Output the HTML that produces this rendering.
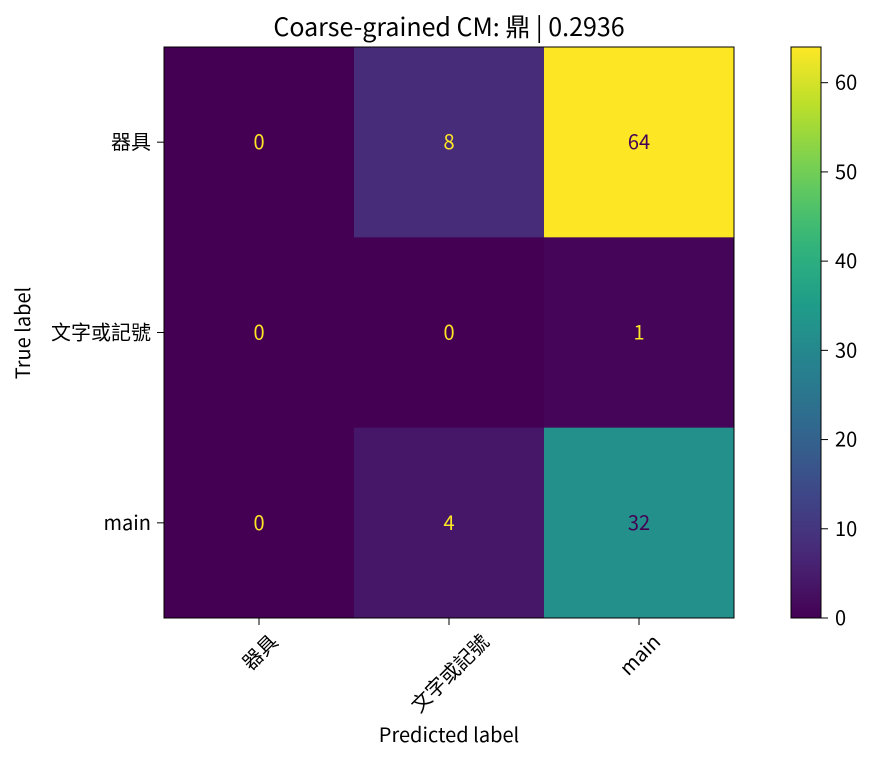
<!DOCTYPE html>
<html><head><meta charset="utf-8"><style>
body{margin:0;background:#fff;}
svg text{font-family:"Noto Sans CJK TC","Liberation Sans",sans-serif;fill:#000;}
</style></head><body>
<svg id="chart" width="873" height="762" xmlns="http://www.w3.org/2000/svg">
<defs><linearGradient id="vir" x1="0" y1="1" x2="0" y2="0"></linearGradient></defs>
<text x="449" y="36" text-anchor="middle" font-size="25">Coarse-grained CM: 鼎 | 0.2936</text>
<g id="cells"></g>
<g id="axes"></g>
<g id="cbar"></g>
<text x="449" y="742" text-anchor="middle" font-size="20">Predicted label</text>
<text transform="translate(30,333) rotate(-90)" text-anchor="middle" font-size="20">True label</text>
</svg>
<script>
const categories=["器具","文字或記號","main"];
const matrix=[[0,8,64],[0,0,1],[0,4,32]];
const cbarTicks=[0,10,20,30,40,50,60];
const vmin=0, vmax=64;
const stops=["#440154","#482878","#3e4989","#31688e","#26828e","#1f9e89","#35b779","#6ece58","#b5de2b","#fde725"];
function hex(c){return [1,3,5].map(i=>parseInt(c.substr(i,2),16));}
function viridis(t){t=Math.max(0,Math.min(1,t));const p=t*(stops.length-1),i=Math.min(stops.length-2,Math.floor(p)),f=p-i;
const a=hex(stops[i]),b=hex(stops[i+1]);return "rgb("+a.map((v,k)=>Math.round(v+(b[k]-v)*f)).join(",")+")";}
const NS="http://www.w3.org/2000/svg";
function el(tag,attrs,parent,txt){const e=document.createElementNS(NS,tag);for(const k in attrs)e.setAttribute(k,attrs[k]);if(txt!==undefined)e.textContent=txt;parent.appendChild(e);return e;}
const L=164,T=47,W=570,H=571,n=categories.length,cw=W/n,ch=H/n;
const xc=j=>L+cw*(j+0.5), yc=i=>T+ch*(i+0.5);
const cells=document.getElementById('cells');
matrix.forEach((row,i)=>row.forEach((v,j)=>{
 const r=el('rect',{x:L+cw*j,y:T+ch*i,width:cw+0.5,height:ch+0.5,fill:viridis((v-vmin)/(vmax-vmin))},cells);
 
 
 const t=el('text',{x:xc(j),y:yc(i)+7,'text-anchor':'middle','font-size':'20',style:'fill:'+((v-vmin)/(vmax-vmin)<0.5?'#fde725':'#440154')},cells,String(v));
 
 
}));
const ax=document.getElementById('axes');
const fr=el('rect',{x:L,y:T,width:W,height:H,fill:'none',stroke:'#000','stroke-width':1},ax);


categories.forEach((c,k)=>{
 el('line',{x1:L,x2:L-7,y1:yc(k),y2:yc(k),stroke:'#000'},ax);
 const yt=el('text',{x:L-13,y:yc(k)+7,'text-anchor':'end','font-size':'20'},ax,c);
 
 
 el('line',{x1:xc(k),x2:xc(k),y1:T+H,y2:T+H+7,stroke:'#000'},ax);
 const xt=el('text',{x:0,y:0,'text-anchor':'middle','dominant-baseline':'central','font-size':'20'},ax,c);
 
 
 const w=xt.getComputedTextLength(), h=20;
 const cy=T+H+12+(w+h)/(2*Math.SQRT2);
 xt.setAttribute('transform','translate('+xc(k)+','+cy+') rotate(-45)');
});
const grad=document.getElementById('vir');
for(let k=0;k<=20;k++)el('stop',{offset:(k/20),'stop-color':viridis(k/20)},grad);
const cb=document.getElementById('cbar');
const CX=791,CW=30;
const cbr=el('rect',{x:CX,y:T,width:CW,height:H,fill:'url(#vir)',stroke:'#000','stroke-width':1},cb);


const cy=v=>T+H-(v-vmin)/(vmax-vmin)*H;
cbarTicks.forEach(v=>{
 el('line',{x1:CX+CW,x2:CX+CW+7,y1:cy(v),y2:cy(v),stroke:'#000'},cb);
 const t=el('text',{x:CX+CW+14,y:cy(v)+7,'font-size':'20'},cb,String(v));
 
 
});
</script>
</body></html>
